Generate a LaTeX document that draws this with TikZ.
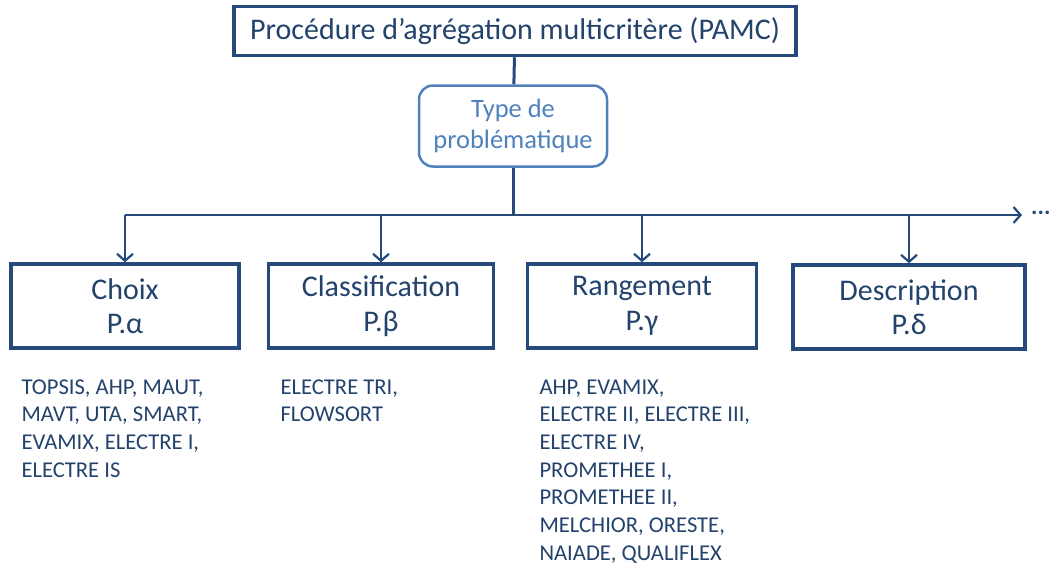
\documentclass[tikz,border=0pt]{standalone}
\usepackage{fontspec}
\setmainfont{Carlito}
\usetikzlibrary{arrows.meta, positioning}
\definecolor{navy}{HTML}{24497A}
\definecolor{lightnavy}{HTML}{4F81BD}
\definecolor{textnavy}{HTML}{23426C}

\tikzset{
  probbox/.style={draw=navy, line width=3.5pt, minimum width=228pt, minimum height=84pt,
    align=center, text=textnavy, font=\fontsize{30}{34.5}\selectfont},
  methods/.style={anchor=north west, align=left, text=textnavy,
    font=\fontsize{22.6}{27.7}\selectfont},
  arr/.style={draw=navy, line width=2.2pt, -{Straight Barb[length=7pt,width=16pt,line width=2.2pt]}},
  link/.style={draw=navy, line width=3pt}
}

\begin{document}
\begin{tikzpicture}[x=1pt, y=-1pt]
      \useasboundingbox (0,0) rectangle (1050,570);

      % Root of the tree
      \node[draw=navy, line width=3.5pt, minimum width=562pt, minimum height=49pt,
        text=textnavy, font=\fontsize{30}{34}\selectfont] (pamc) at (515,31)
        {Procédure d’agrégation multicritère (PAMC)};

      % Type de problematique
      \node[draw=lightnavy, line width=2.5pt, rounded corners=14pt, minimum width=188pt,
        minimum height=81pt, align=center, text=lightnavy,
        font=\fontsize{26.5}{30.5}\selectfont] (type) at (513,126)
        {Type de\\problématique};
      \draw[link] (pamc) -- (type);

      % The four problematics
      \node[probbox] (choix) at (125,306) {Choix\\P.α};
      \node[probbox, minimum width=225pt] (classif) at (381,306) {Classification\\P.β};
      \node[probbox, minimum width=229pt] (rang) at (642,306) {Rangement\\P.γ};
      \node[probbox, minimum width=232pt] (descr) at (909,307) {Description\\P.δ};

      % Bus line
      \coordinate (bus) at (513,215);
      \coordinate (busend) at (1022,215);
      \node[text=navy, font=\bfseries\fontsize{24}{26}\selectfont, anchor=west, inner sep=0pt] (dots) at (1031,213) {...};
      \draw[link] (type) -- (bus);
      \draw[arr] (choix.north |- bus) -- (busend);
      \foreach \p in {choix, classif, rang, descr}
        \draw[arr] (\p.north |- bus) -- (\p.north);

      % Methods under each box
      \node[methods] (mchoix) at (18,376) {TOPSIS, AHP, MAUT,\\MAVT, UTA, SMART,\\EVAMIX, ELECTRE I,\\ELECTRE IS};
      \node[methods] (mclassif) at (277,376) {ELECTRE TRI,\\FLOWSORT};
      \node[methods] (mrang) at (536,376) {AHP, EVAMIX,\\ELECTRE II, ELECTRE III,\\ELECTRE IV,\\PROMETHEE I,\\PROMETHEE II,\\MELCHIOR, ORESTE,\\NAIADE, QUALIFLEX};
    \end{tikzpicture}
\end{document}
